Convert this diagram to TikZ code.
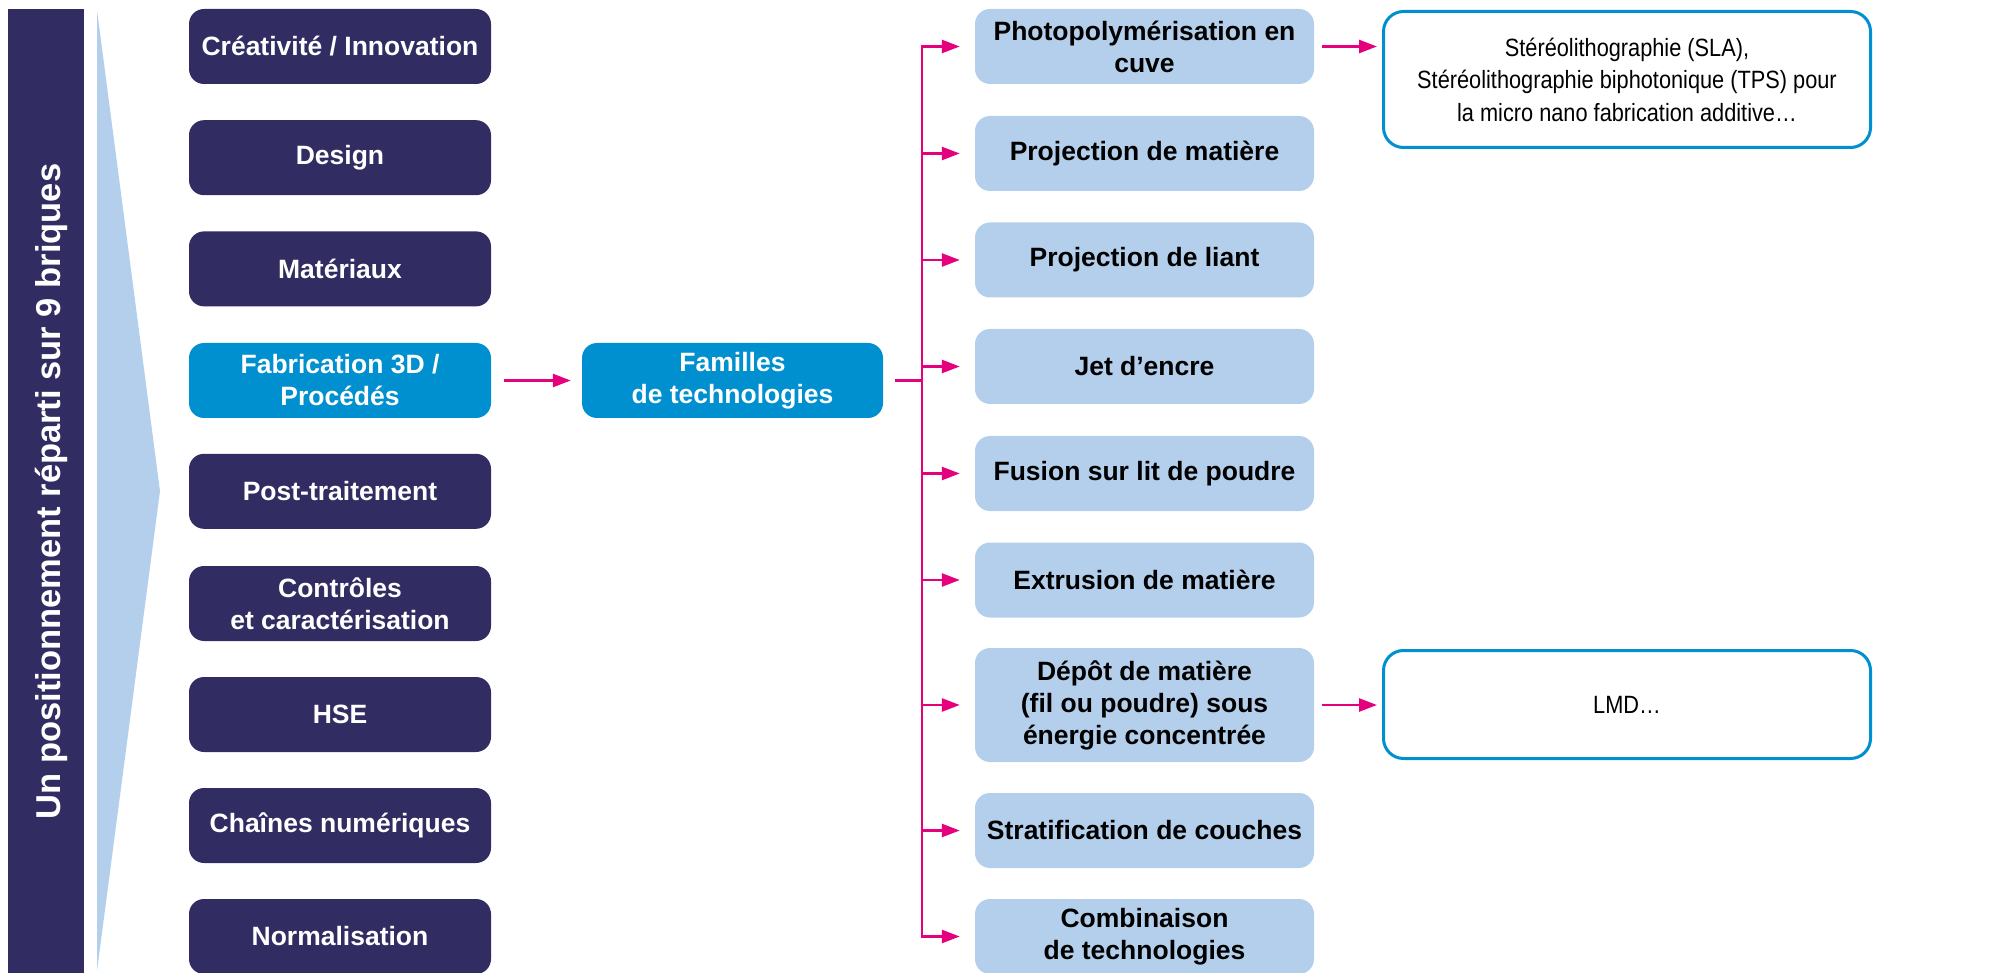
\documentclass[tikz,border=0pt]{standalone}
\usepackage{fontspec}
\setmainfont{Liberation Sans}
\newfontfamily\etroite[FakeStretch=0.87]{Liberation Sans}
\usetikzlibrary{arrows.meta}
\definecolor{nuit}{HTML}{312D62}
\definecolor{procede}{HTML}{0090D0}
\definecolor{ciel}{HTML}{B4CFEC}
\definecolor{fuchsia}{HTML}{E5007E}
\tikzset{
  brique/.style={fill=nuit,text=white,rounded corners=15pt,minimum width=302pt,minimum height=75pt,inner sep=0pt,align=center,font=\bfseries\fontsize{26.5}{32}\selectfont},
  actif/.style={brique,fill=procede},
  famille/.style={fill=ciel,text=black,rounded corners=15pt,minimum width=339pt,minimum height=75pt,inner sep=0pt,align=center,font=\bfseries\fontsize{26.5}{32}\selectfont},
  exemple/.style={draw=procede,line width=3pt,fill=white,rounded corners=20pt,minimum width=487pt,minimum height=136pt,inner sep=0pt,align=center,font=\etroite\fontsize{25}{32.5}\selectfont},
  lien/.style={fuchsia,line width=2.6pt},
  fleche/.style={lien,-{Triangle[length=18pt,width=13pt]}}
}

\begin{document}
\begin{tikzpicture}[x=1pt,y=-1pt]
        \useasboundingbox (0,0) rectangle (1995,973);
        % bandeau et triangle
        \fill[nuit] (8,9) rectangle (84,973);
        \fill[ciel] (97,10) -- (160,491) -- (97,971) -- cycle;
        \node[rotate=90,anchor=base,text=white,font=\bfseries\fontsize{34.5}{40}\selectfont] (titre) at (60,491.5) {Un positionnement réparti sur 9 briques};
        % les 9 briques
        \node[brique] (b1) at (340,46.5) {Créativité / Innovation};
        \node[brique] (b2) at (340,157.7) {Design};
        \node[brique] (b3) at (340,268.9) {Matériaux};
        \node[actif] (b4) at (340,380.5) {Fabrication 3D /\\Procédés};
        \node[brique] (b5) at (340,491.3) {Post-traitement};
        \node[brique] (b6) at (340,603.5) {Contrôles\\et caractérisation};
        \node[brique] (b7) at (340,714.5) {HSE};
        \node[brique] (b8) at (340,825.5) {Chaînes numériques};
        \node[brique] (b9) at (340,936.5) {Normalisation};
        \node[actif,minimum width=301pt] (fam) at (732.5,380.5) {Familles\\de technologies};
        % familles de technologies
        \node[famille] (t1) at (1144.5,46.5) {Photopolymérisation en\\cuve};
        \node[famille] (t2) at (1144.5,153.5) {Projection de matière};
        \node[famille] (t3) at (1144.5,260) {Projection de liant};
        \node[famille] (t4) at (1144.5,366.5) {Jet d’encre};
        \node[famille] (t5) at (1144.5,473.5) {Fusion sur lit de poudre};
        \node[famille] (t6) at (1144.5,580) {Extrusion de matière};
        \node[famille,minimum height=114pt] (t7) at (1144.5,705) {Dépôt de matière\\(fil ou poudre) sous\\énergie concentrée};
        \node[famille] (t8) at (1144.5,830.5) {Stratification de couches};
        \node[famille] (t9) at (1144.5,936.5) {Combinaison\\de technologies};
        % exemples
        \node[exemple] (ex1) at (1627,79.5) {Stéréolithographie (SLA),\\Stéréolithographie biphotonique (TPS) pour\\la micro nano fabrication additive…};
        \node[exemple,minimum height=108pt] (ex2) at (1627,704.5) {LMD…};
        % liens
        \draw[fleche,shorten <=13pt,shorten >=11pt] (b4) -- (fam);
        \coordinate (bus) at (922,380.5);
        \draw[lien,shorten <=12pt] (fam) -- (bus);
        \draw[lien,line cap=rect] (bus |- t1) -- (bus |- t9);
        \foreach \i in {1,...,9}
          \draw[fleche,shorten >=15pt] (bus |- t\i) -- (t\i);
        \draw[fleche,shorten <=8pt,shorten >=5pt] (t1) -- (t1 -| ex1.west);
        \draw[fleche,shorten <=8pt,shorten >=5pt] (t7) -- (t7 -| ex2.west);
\end{tikzpicture}
\end{document}
